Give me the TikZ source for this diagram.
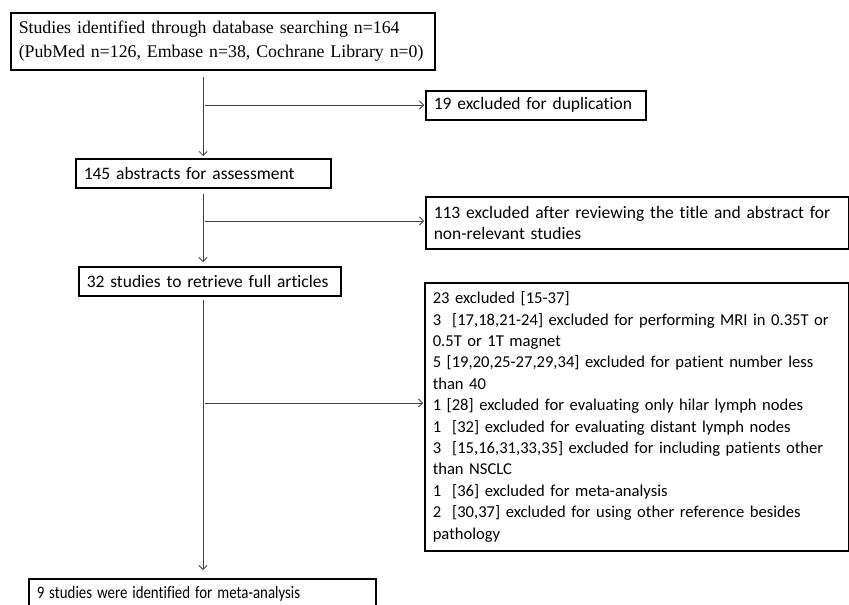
\documentclass[tikz,border=0pt]{standalone}
\usepackage{fontspec}
\usepackage{graphicx}
\setmainfont{Carlito}[Ligatures=NoCommon]
\newfontfamily\tnr{Liberation Serif}
\usetikzlibrary{arrows.meta}
\tikzset{
  box/.style={draw=black, line width=1.5pt, anchor=north west, align=left, inner xsep=7pt, inner ysep=2pt,
    font=\fontsize{17.5}{21.4}\selectfont},
  arr/.style={draw=black!75, line width=0.8pt, -{Straight Barb[length=4pt,width=8pt]}},
}
\begin{document}
\begin{tikzpicture}[x=1pt,y=-1pt]
\useasboundingbox (0,0) rectangle (849,605);
\node[box, minimum width=424pt, minimum height=57pt, text width=408pt, font=\tnr\fontsize{17.8}{24}\selectfont] (b1) at (10,12)
  {\makebox[376pt][s]{Studies identified through database searching n=164}\\\mbox{(PubMed n=126, Embase n=38, Cochrane Library n=0)}};
\node[box, minimum width=220pt, minimum height=29pt, text width=204pt] (b19) at (425,90) {\mbox{19 excluded for duplication}};
\node[box, minimum width=255pt, minimum height=29pt, text width=239pt] (b2) at (75,158) {\mbox{145 abstracts for assessment}};
\node[box, minimum width=423pt, minimum height=52pt, text width=407pt] (b113) at (425,196)
  {\mbox{113 excluded after reviewing the title and abstract for}\\\mbox{non-relevant studies}};
\node[box, minimum width=262pt, minimum height=29pt, text width=246pt] (b3) at (78,266) {\mbox{32 studies to retrieve full articles}};
\node[box, minimum width=424pt, minimum height=268pt, text width=408pt, font=\fontsize{16.6}{21.4}\selectfont] (bbig) at (424,282)
  {\mbox{23 excluded [15-37]}\\
   \mbox{3\ \ [17,18,21-24] excluded for performing MRI in 0.35T or}\\
   \mbox{0.5T or 1T magnet}\\
   \mbox{5 [19,20,25-27,29,34] excluded for patient number less}\\
   \mbox{than 40}\\
   \mbox{1 [28] excluded for evaluating only hilar lymph nodes}\\
   \mbox{1\ \ [32] excluded for evaluating distant lymph nodes}\\
   \mbox{3\ \ [15,16,31,33,35] excluded for including patients other}\\
   \mbox{than NSCLC}\\
   \mbox{1\ \ [36] excluded for meta-analysis}\\
   \mbox{2\ \ [30,37] excluded for using other reference besides}\\
   \mbox{pathology}};
\node[box, minimum width=347pt, minimum height=38pt, text width=331pt, inner ysep=0pt, anchor=north west] (b9) at (28,578)
  {\raisebox{0pt}[20pt][18pt]{\scalebox{0.85}[1]{9 studies were identified for meta-analysis}}};
\coordinate (mx) at (203,0);
\coordinate (j1) at (203,105);
\coordinate (j2) at (203,221);
\coordinate (j3) at (203,403);
\draw[arr, shorten <=6pt, shorten >=2pt] (b1.south -| mx) -- (b2.north -| mx);
\draw[arr, shorten <=5pt, shorten >=4pt] (b2.south -| mx) -- (b3.north -| mx);
\draw[arr, shorten <=3pt, shorten >=8pt] (b3.south -| mx) -- (b9.north -| mx);
\draw[arr, shorten >=1pt] ([xshift=2pt]j1) -- (b19.west |- j1);
\draw[arr, shorten >=1pt] ([xshift=2pt]j2) -- (b113.west |- j2);
\draw[arr, shorten >=1pt] ([xshift=2pt]j3) -- (bbig.west |- j3);
\end{tikzpicture}
\end{document}
